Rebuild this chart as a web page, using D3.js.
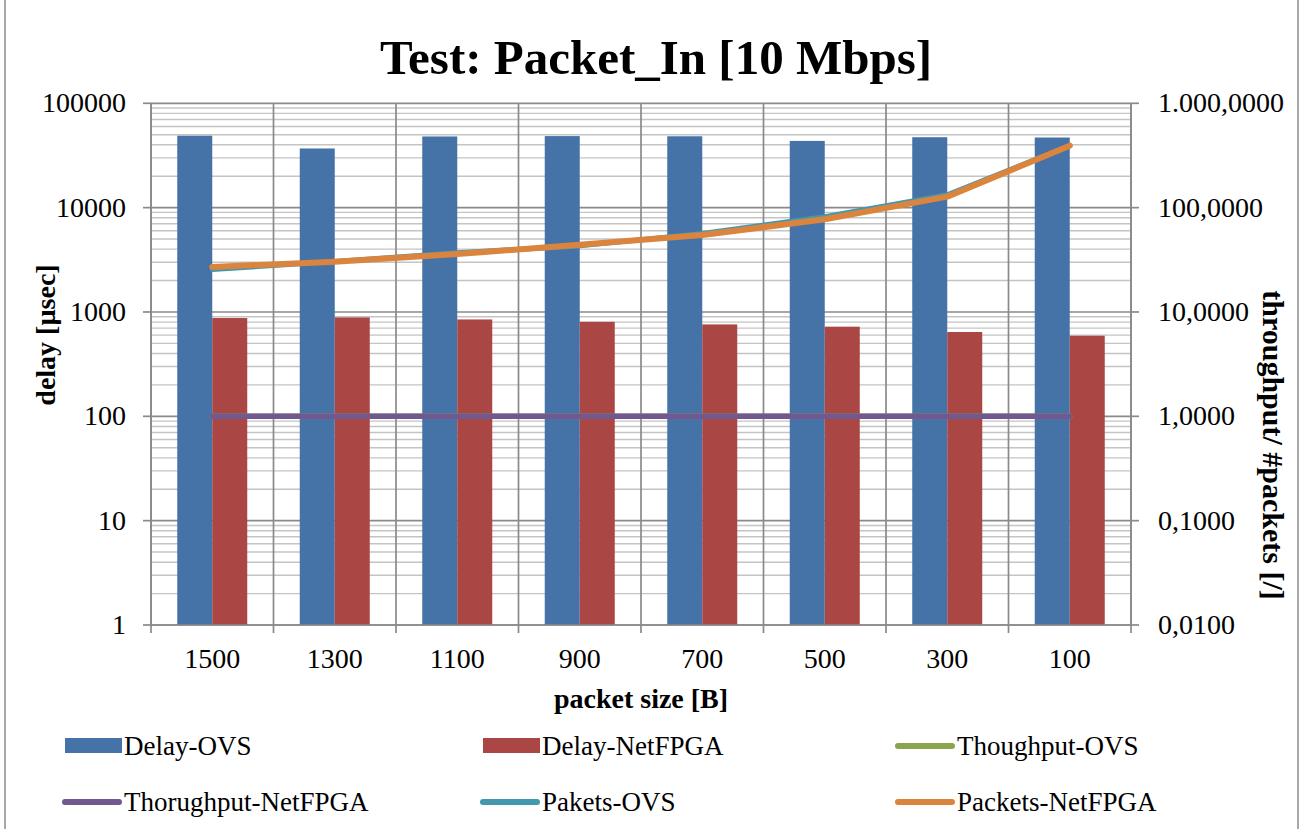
<!DOCTYPE html>
<html>
<head>
<meta charset="utf-8">
<script src="https://cdn.jsdelivr.net/npm/d3@7"></script>
<style>
  body { margin: 0; background: #fff; }
  svg { display: block; }
  text { font-family: "Liberation Serif", "Times New Roman", serif; fill: #000; }
</style>
</head>
<body>
<script>
// data
var categories = ["1500", "1300", "1100", "900", "700", "500", "300", "100"];
var delayOVS = [48900, 36900, 48100, 48500, 48300, 43600, 47300, 47000];
var delayNetFPGA = [875, 887, 848, 805, 760, 723, 643, 592];
var thoughputOVS = [1, 1, 1, 1, 1, 1, 1, 1];
var thorughputNetFPGA = [1, 1, 1, 1, 1, 1, 1, 1];
var paketsOVS = [25.5, 30.5, 36.9, 43, 56.6, 81.9, 133, 392];
var packetsNetFPGA = [27.0, 30.3, 35.9, 44, 54.6, 77.3, 127.5, 392.6];

var leftTicks = [1, 10, 100, 1000, 10000, 100000];
var leftLabels = ["1", "10", "100", "1000", "10000", "100000"];
var rightTicks = [0.01, 0.1, 1, 10, 100, 1000];
var rightLabels = ["0,0100", "0,1000", "1,0000", "10,0000", "100,0000", "1.000,0000"];

var W = 1311, H = 829;
var plotL = 151, plotR = 1131, plotT = 103.3, plotB = 625;
var gridDark = "#8a8a8a";

var svg = d3.select("body").append("svg")
    .attr("width", W)
    .attr("height", H);

// chart border
svg.append("rect")
    .attr("x", 5).attr("y", -2)
    .attr("width", 1293).attr("height", H + 4)
    .attr("fill", "none")
    .attr("stroke", "#8c8c8c")
    .attr("stroke-width", 1.5);

var x = d3.scaleBand().domain(categories).range([plotL, plotR]);
var xs = d3.scaleBand().domain(["ovs", "net"]).range([0, x.bandwidth()]).paddingOuter(0.75);
var yL = d3.scaleLog().domain([1, 100000]).range([plotB, plotT]);
var yR = d3.scaleLog().domain([0.01, 1000]).range([plotB, plotT]);

// minor horizontal grid
var minor = [];
for (var e = 0; e < 5; e++) {
    for (var m = 2; m <= 9; m++) minor.push(m * Math.pow(10, e));
}
svg.append("g").selectAll("line")
    .data(minor)
    .enter().append("line")
    .attr("x1", plotL).attr("x2", plotR)
    .attr("y1", function(d){ return yL(d); })
    .attr("y2", function(d){ return yL(d); })
    .attr("stroke", "#c4c4c4")
    .attr("stroke-width", 1.4);

// major horizontal grid
svg.append("g").selectAll("line")
    .data(leftTicks)
    .enter().append("line")
    .attr("x1", plotL).attr("x2", plotR)
    .attr("y1", function(d){ return yL(d); })
    .attr("y2", function(d){ return yL(d); })
    .attr("stroke", gridDark)
    .attr("stroke-width", 1.7);

// vertical grid at category boundaries
var bounds = categories.map(function(c){ return x(c); }).concat([plotR]);
svg.append("g").selectAll("line")
    .data(bounds)
    .enter().append("line")
    .attr("x1", function(d){ return d; })
    .attr("x2", function(d){ return d; })
    .attr("y1", plotT).attr("y2", plotB + 8)
    .attr("stroke", gridDark)
    .attr("stroke-width", 1.7);

// bars
var barSeries = [
    {key: "ovs", values: delayOVS, color: "#4572a7"},
    {key: "net", values: delayNetFPGA, color: "#aa4643"}
];
barSeries.forEach(function(s){
    svg.append("g").selectAll("rect")
        .data(s.values)
        .enter().append("rect")
        .attr("x", function(d, i){ return x(categories[i]) + xs(s.key); })
        .attr("width", xs.bandwidth())
        .attr("y", function(d){ return yL(d); })
        .attr("height", function(d){ return plotB - yL(d); })
        .attr("fill", s.color);
});

// axis lines and ticks
svg.append("line").attr("x1", plotL).attr("x2", plotR).attr("y1", plotB).attr("y2", plotB)
    .attr("stroke", gridDark).attr("stroke-width", 1.7);
svg.append("line").attr("x1", plotL).attr("x2", plotL).attr("y1", plotT).attr("y2", plotB)
    .attr("stroke", gridDark).attr("stroke-width", 1.7);
svg.append("line").attr("x1", plotR).attr("x2", plotR).attr("y1", plotT).attr("y2", plotB)
    .attr("stroke", gridDark).attr("stroke-width", 1.7);

svg.append("g").selectAll("line")
    .data(leftTicks)
    .enter().append("line")
    .attr("x1", plotL - 8).attr("x2", plotL)
    .attr("y1", function(d){ return yL(d); })
    .attr("y2", function(d){ return yL(d); })
    .attr("stroke", gridDark).attr("stroke-width", 1.7);
svg.append("g").selectAll("line")
    .data(rightTicks)
    .enter().append("line")
    .attr("x1", plotR).attr("x2", plotR + 8)
    .attr("y1", function(d){ return yR(d); })
    .attr("y2", function(d){ return yR(d); })
    .attr("stroke", gridDark).attr("stroke-width", 1.7);

// lines on the right axis
var line = function(vals){
    return d3.line()
        .x(function(d, i){ return x(categories[i]) + x.bandwidth() / 2; })
        .y(function(d){ return yR(d); })(vals);
};
var lineSeries = [
    {values: thoughputOVS, color: "#89a54e", w: 5.5},
    {values: thorughputNetFPGA, color: "#71588f", w: 5.5},
    {values: paketsOVS, color: "#4198af", w: 5},
    {values: packetsNetFPGA, color: "#db843d", w: 6}
];
lineSeries.forEach(function(s){
    svg.append("path")
        .attr("d", line(s.values))
        .attr("fill", "none")
        .attr("stroke", s.color)
        .attr("stroke-width", s.w)
        .attr("stroke-linecap", "round")
        .attr("stroke-linejoin", "round");
});

// tick labels
svg.append("g").selectAll("text")
    .data(leftTicks)
    .enter().append("text")
    .attr("x", 126)
    .attr("y", function(d){ return yL(d) + 9; })
    .attr("text-anchor", "end")
    .attr("font-size", 28)
    .text(function(d, i){ return leftLabels[i]; });

svg.append("g").selectAll("text")
    .data(rightTicks)
    .enter().append("text")
    .attr("x", 1158)
    .attr("y", function(d){ return yR(d) + 9; })
    .attr("font-size", 28)
    .text(function(d, i){ return rightLabels[i]; });

svg.append("g").selectAll("text")
    .data(categories)
    .enter().append("text")
    .attr("x", function(d){ return x(d) + x.bandwidth() / 2; })
    .attr("y", 668)
    .attr("text-anchor", "middle")
    .attr("font-size", 28)
    .text(function(d){ return d; });

// titles
svg.append("text")
    .attr("x", 656).attr("y", 74)
    .attr("text-anchor", "middle")
    .attr("font-size", 49)
    .attr("font-weight", "bold")
    .text("Test: Packet_In [10 Mbps]");

svg.append("text")
    .attr("x", 641).attr("y", 708)
    .attr("text-anchor", "middle")
    .attr("font-size", 28)
    .attr("font-weight", "bold")
    .text("packet size [B]");

svg.append("text")
    .attr("transform", "translate(55,335) rotate(-90)")
    .attr("text-anchor", "middle")
    .attr("font-size", 28)
    .attr("font-weight", "bold")
    .text("delay [µsec]");

svg.append("text")
    .attr("transform", "translate(1263,445) rotate(90)")
    .attr("text-anchor", "middle")
    .attr("font-size", 30)
    .attr("font-weight", "bold")
    .text("throughput/ #packets [/]");

// legend
var legend = [
    {name: "Delay-OVS", color: "#4572a7", type: "bar", col: 0, row: 0},
    {name: "Delay-NetFPGA", color: "#aa4643", type: "bar", col: 1, row: 0},
    {name: "Thoughput-OVS", color: "#89a54e", type: "line", col: 2, row: 0},
    {name: "Thorughput-NetFPGA", color: "#71588f", type: "line", col: 0, row: 1},
    {name: "Pakets-OVS", color: "#4198af", type: "line", col: 1, row: 1},
    {name: "Packets-NetFPGA", color: "#db843d", type: "line", col: 2, row: 1}
];
var colX = [123, 541, 956];
var rowY = [746, 802];

var lg = svg.append("g").selectAll("g")
    .data(legend)
    .enter().append("g")
    .attr("transform", function(d){ return "translate(" + colX[d.col] + "," + rowY[d.row] + ")"; });

lg.filter(function(d){ return d.type == "bar"; })
    .append("rect")
    .attr("x", -58).attr("y", -8)
    .attr("width", 57).attr("height", 15)
    .attr("fill", function(d){ return d.color; });

lg.filter(function(d){ return d.type == "line"; })
    .append("line")
    .attr("x1", -58).attr("x2", -4)
    .attr("y1", 0).attr("y2", 0)
    .attr("stroke", function(d){ return d.color; })
    .attr("stroke-width", 6)
    .attr("stroke-linecap", "round");

lg.append("text")
    .attr("x", 1)
    .attr("y", 9)
    .attr("font-size", 27)
    .text(function(d){ return d.name; });
</script>
</body>
</html>
